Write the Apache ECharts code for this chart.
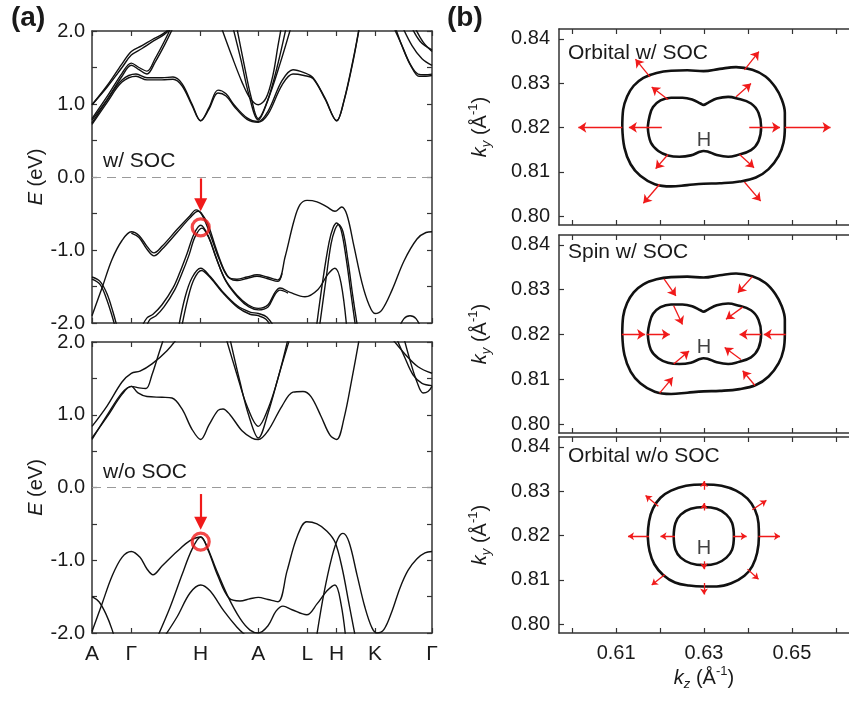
<!DOCTYPE html>
<html><head><meta charset="utf-8">
<script src="https://cdn.jsdelivr.net/npm/echarts@6/dist/echarts.min.js"></script>
<style>html,body{margin:0;padding:0;background:#fff}#c{width:849px;height:702px}</style>
</head><body><div id="c"></div>
<script>
// ---------- DATA ----------
const kPos = [0, 39.3, 108.7, 166.3, 215.3, 244.7, 283, 340];
const kLabels = ['A', 'Γ', 'H', 'A', 'L', 'H', 'K', 'Γ'];
const kzTicks = [0.60, 0.61, 0.62, 0.63, 0.64, 0.65, 0.66];
const kzLabels = [0.61, 0.63, 0.65];
const kyTicks = [0.80, 0.81, 0.82, 0.83, 0.84];

// bands with SOC: [k-path distance, E (eV)]
const socBands = [
  [[0,0.99],[15,1.25],[30,1.55],[39.3,1.72],[50,1.80],[60,1.88],[72,1.97],[82,2.1]],
  [[0,0.99],[15,1.23],[30,1.50],[39.3,1.67],[50,1.76],[60,1.85],[72,1.95],[84,2.1]],
  [[0,0.80],[15,1.10],[30,1.42],[39.3,1.56],[47,1.50],[55,1.45],[63,1.62],[72,1.85],[81,2.1]],
  [[0,0.78],[15,1.06],[30,1.38],[39.3,1.53],[47,1.47],[55,1.41],[63,1.57],[73,1.82],[83,2.1]],
  [[0,0.74],[15,1.05],[30,1.33],[44,1.41],[55,1.36],[70,1.36],[81,1.37],[90,1.28],[100,1.0],[108.7,0.77],[117,0.95],[126,1.19],[134,1.14],[142,0.99],[155,0.81],[166.3,0.76],[176,0.9],[190,1.32],[201,1.47],[212,1.43],[221,1.36],[233,1.08],[244.7,0.77],[252,1.05],[261,1.6],[268,2.1]],
  [[0,0.72],[15,1.02],[30,1.30],[44,1.38],[55,1.33],[70,1.33],[81,1.34],[90,1.25],[100,0.98],[108.7,0.77],[117,0.93],[126,1.15],[134,1.11],[142,0.97],[155,0.79],[166.3,0.75],[176,0.86],[190,1.26],[201,1.41],[212,1.39],[221,1.35],[233,1.07],[244.7,0.77],[252,1.04],[261,1.58],[268,2.1]],
  [[128,2.1],[140,1.65],[150,1.3],[158,1.08],[166.3,0.99],[174,1.08],[181,1.4],[186,1.8],[190,2.1]],
  [[140,2.1],[149,1.6],[157,1.12],[166.3,0.78],[175,1.02],[185,1.5],[195,2.1]],
  [[144,2.1],[152,1.55],[159,1.1],[166.3,0.80],[176,1.06],[188,1.55],[200,2.1]],
  [[300,2.1],[310,1.8],[318,1.55],[326,1.41],[333,1.40],[340,1.41]],
  [[302,2.1],[311,1.76],[319,1.52],[327,1.38],[334,1.38],[340,1.39]],
  [[309,2.1],[320,1.8],[330,1.62],[340,1.53]],
  [[318,2.1],[328,1.86],[340,1.74]],
  [[321,2.1],[331,1.85],[340,1.72]],
  [[0,-1.9],[10,-1.52],[20,-1.13],[30,-0.87],[39.3,-0.75],[47,-0.80],[55,-0.95],[62,-1.04],[70,-0.95],[85,-0.72],[98,-0.53],[104,-0.45],[110,-0.52],[118,-0.78],[127,-1.12],[136,-1.37],[145,-1.40],[155,-1.37],[165,-1.34],[175,-1.37],[186,-1.41],[193,-1.1],[202,-0.6],[208,-0.38],[215,-0.32],[225,-0.34],[235,-0.41],[243,-0.47],[249.7,-0.41],[255,-0.52],[262,-0.95],[270,-1.45],[277,-1.75],[283,-1.87],[290,-1.82],[300,-1.55],[312,-1.15],[325,-0.85],[334,-0.76],[340,-0.75]],
  [[39.3,-0.77],[47,-0.83],[55,-0.99],[62,-1.08],[70,-0.99],[85,-0.76],[98,-0.56],[106,-0.47],[109,-0.49],[116,-0.65],[124,-0.98],[132,-1.27],[138,-1.39],[145,-1.42],[155,-1.39],[165,-1.36],[175,-1.39],[186,-1.43],[190,-1.32]],
  [[224,-2.1],[231,-1.4],[237,-0.9],[241,-0.7],[244.7,-0.63],[249,-0.72],[254,-1.1],[259,-1.6],[264,-2.1]],
  [[227,-2.1],[234,-1.4],[239,-0.92],[243,-0.72],[246.5,-0.65],[251,-0.75],[256,-1.15],[261,-1.65],[266,-2.1]],
  [[50,-2.05],[55,-1.93],[61,-1.88],[70,-1.75],[81,-1.52],[88,-1.3],[95,-1.05],[102,-0.78],[108.7,-0.66],[116,-0.8],[124,-1.1],[133,-1.4],[145,-1.62],[156,-1.75],[166.3,-1.80],[176,-1.75],[183,-1.58],[188,-1.52],[198,-1.58],[213,-1.64],[226,-1.54],[236,-1.33],[243,-1.25],[249,-1.45],[255,-2.1]],
  [[53,-2.1],[58,-1.95],[64,-1.9],[72,-1.78],[83,-1.54],[90,-1.32],[97,-1.07],[103,-0.82],[110,-0.70],[117,-0.84],[125,-1.14],[134,-1.43],[146,-1.65],[157,-1.78],[166.3,-1.82],[176,-1.78],[183,-1.61],[188,-1.55],[196,-1.59]],
  [[86,-2.1],[93,-1.65],[100,-1.38],[108.7,-1.25],[118,-1.36],[130,-1.56],[145,-1.76],[158,-1.85],[166.3,-1.87],[175,-1.92],[184,-2.1]],
  [[89,-2.1],[96,-1.66],[102,-1.4],[109.5,-1.28],[119,-1.39],[131,-1.59],[146,-1.79],[158,-1.88],[166.3,-1.90],[174,-1.95],[181,-2.1]],
  [[0,-1.37],[8,-1.43],[15,-1.6],[21,-1.85],[26,-2.1]],
  [[0,-1.40],[8,-1.47],[14,-1.65],[20,-1.9],[24,-2.1]],
  [[306,-2.1],[312,-1.94],[318,-1.90],[324,-1.94],[330,-2.1]]
];

// bands without SOC
const noSocBands = [
  [[0,0.84],[15,1.12],[30,1.45],[39.3,1.57],[48,1.60],[60,1.70],[75,1.88],[88,2.1]],
  [[0,0.68],[15,0.97],[30,1.28],[39.3,1.39],[47,1.37],[54,1.36],[60,1.55],[67,1.85],[73,2.1]],
  [[0,0.66],[15,0.99],[30,1.30],[39.3,1.39],[46,1.30],[55,1.25],[70,1.24],[80,1.23],[90,1.08],[100,0.80],[108.7,0.66],[117,0.86],[126,1.06],[131,1.08],[138,1.0],[150,0.78],[160,0.68],[166.3,0.66],[176,0.78],[190,1.12],[201,1.31],[211,1.32],[219,1.25],[229,0.98],[238,0.72],[244.7,0.66],[252,0.95],[260,1.5],[268,2.1]],
  [[133,2.1],[145,1.55],[155,1.12],[166.3,0.84],[176,1.08],[186,1.5],[197,2.1]],
  [[137,2.1],[148,1.45],[157,0.98],[166.3,0.68],[176,1.02],[188,1.6],[199,2.1]],
  [[297,2.1],[312,1.85],[326,1.66],[340,1.57]],
  [[303,2.1],[313,1.78],[321,1.55],[330,1.43],[340,1.40]],
  [[311,2.1],[318,1.75],[325,1.45],[331,1.30],[336,1.32],[340,1.39]],
  [[0,-1.98],[10,-1.6],[20,-1.22],[30,-0.96],[39.3,-0.88],[48,-0.96],[55,-1.12],[61,-1.20],[70,-1.08],[85,-0.88],[98,-0.73],[108.7,-0.68],[116,-0.86],[126,-1.22],[137,-1.52],[148,-1.56],[158,-1.53],[166.3,-1.51],[176,-1.54],[186,-1.57],[195,-1.15],[205,-0.68],[214.7,-0.47],[225,-0.5],[235,-0.6],[243,-0.75],[250,-1.1],[257,-1.6],[264,-2.1]],
  [[224,-2.1],[232,-1.45],[240,-0.95],[246,-0.7],[251,-0.63],[257,-0.75],[265,-1.2],[273,-1.65],[280,-1.93],[285,-2.0],[292,-1.95],[300,-1.7],[308,-1.38],[316,-1.14],[325,-0.98],[333,-0.9],[340,-0.88]],
  [[64,-2.1],[78,-1.65],[90,-1.2],[100,-0.85],[108.7,-0.68],[114,-0.78],[124,-1.12],[136,-1.5],[148,-1.8],[158,-1.96],[166.3,-2.0],[176,-1.9],[184,-1.7],[191,-1.63],[200,-1.68],[214.7,-1.75],[225,-1.6],[235,-1.42],[243,-1.34],[249,-1.6],[254,-2.1]],
  [[70,-2.1],[85,-1.78],[98,-1.45],[108.7,-1.34],[118,-1.42],[132,-1.7],[145,-1.92],[155,-2.05],[160,-2.1]],
  [[0,-1.50],[7,-1.57],[14,-1.74],[20,-1.95],[23,-2.1]]
];

// red markers in (a): [k, E]
const socCircle = [108.7, -0.69];
const noSocCircle = [108.7, -0.745];
const socArrow = [108.7, -0.02, 108.7, -0.38];
const noSocArrow = [108.7, -0.09, 108.7, -0.49];

// Fermi contours in (b): [kz, ky]
const outerSoc = [[0.6114,0.8201],[0.6116,0.8240],[0.6125,0.8270],[0.6140,0.8294],[0.6162,0.8312],[0.6192,0.8323],[0.6225,0.8328],[0.6262,0.8329],[0.6299,0.8327],[0.6336,0.8332],[0.6373,0.8336],[0.6410,0.8330],[0.6440,0.8315],[0.6462,0.8291],[0.6477,0.8263],[0.6484,0.8233],[0.6484,0.8201],[0.6481,0.8166],[0.6470,0.8136],[0.6447,0.8106],[0.6418,0.8087],[0.6381,0.8078],[0.6336,0.8074],[0.6299,0.8073],[0.6262,0.8070],[0.6225,0.8067],[0.6188,0.8072],[0.6155,0.8091],[0.6133,0.8117],[0.6119,0.8154]];
const innerSoc = [[0.6172,0.8201],[0.6176,0.8225],[0.6184,0.8246],[0.6201,0.8261],[0.6225,0.8267],[0.6251,0.8267],[0.6273,0.8263],[0.6292,0.8254],[0.6299,0.8251],[0.6308,0.8255],[0.6329,0.8265],[0.6355,0.8269],[0.6373,0.8266],[0.6407,0.8254],[0.6424,0.8233],[0.6430,0.8201],[0.6424,0.8169],[0.6407,0.8149],[0.6373,0.8137],[0.6355,0.8134],[0.6329,0.8138],[0.6308,0.8146],[0.6299,0.8147],[0.6290,0.8145],[0.6270,0.8137],[0.6244,0.8134],[0.6218,0.8137],[0.6196,0.8147],[0.6179,0.8166]];
const outerNoSoc = [[0.6172,0.8198],[0.6175,0.8232],[0.6184,0.8261],[0.6201,0.8285],[0.6225,0.8301],[0.6259,0.8312],[0.6300,0.8315],[0.6340,0.8312],[0.6373,0.8301],[0.6399,0.8283],[0.6416,0.8258],[0.6424,0.8228],[0.6425,0.8198],[0.6421,0.8161],[0.6410,0.8131],[0.6392,0.8109],[0.6362,0.8092],[0.6329,0.8085],[0.6300,0.8085],[0.6266,0.8087],[0.6234,0.8094],[0.6207,0.8111],[0.6187,0.8135],[0.6176,0.8165]];
const innerNoSoc = [[0.6231,0.8198],[0.6235,0.8228],[0.6247,0.8247],[0.6270,0.8260],[0.6300,0.8264],[0.6329,0.8260],[0.6351,0.8247],[0.6364,0.8228],[0.6368,0.8198],[0.6364,0.8168],[0.6351,0.8150],[0.6329,0.8137],[0.6300,0.8133],[0.6270,0.8137],[0.6247,0.8150],[0.6235,0.8168]];

// arrows in (b): [kz0, ky0, kz1, ky1]
const orbSocArrows = [
  [0.6177,0.8314,0.6144,0.8354],[0.6392,0.8330,0.6425,0.8371],
  [0.6114,0.8200,0.6014,0.8200],[0.6484,0.8200,0.6588,0.8200],
  [0.6199,0.8072,0.6162,0.8029],[0.6392,0.8077,0.6429,0.8034],
  [0.6218,0.8263,0.6181,0.8291],[0.6373,0.8269,0.6407,0.8299],
  [0.6204,0.8200,0.6129,0.8200],[0.6403,0.8200,0.6473,0.8200],
  [0.6218,0.8139,0.6190,0.8107],[0.6381,0.8139,0.6414,0.8109]
];
const spinSocArrows = [
  [0.6209,0.8324,0.6236,0.8286],[0.6410,0.8329,0.6377,0.8293],
  [0.6113,0.8200,0.6166,0.8200],[0.6170,0.8200,0.6222,0.8200],
  [0.6486,0.8200,0.6436,0.8200],[0.6430,0.8200,0.6381,0.8200],
  [0.6231,0.8264,0.6251,0.8222],[0.6388,0.8261,0.6350,0.8234],
  [0.6231,0.8134,0.6266,0.8163],[0.6384,0.8144,0.6347,0.8171],
  [0.6199,0.8069,0.6229,0.8104],[0.6416,0.8086,0.6388,0.8119]
];
const orbNoSocArrows = [
  [0.6300,0.8303,0.6300,0.8323],[0.6300,0.8093,0.6300,0.8067],
  [0.6175,0.8198,0.6127,0.8198],[0.6424,0.8198,0.6473,0.8198],
  [0.6196,0.8266,0.6167,0.8290],[0.6410,0.8258,0.6442,0.8279],
  [0.6211,0.8112,0.6181,0.8088],[0.6399,0.8124,0.6424,0.8101],
  [0.6300,0.8256,0.6300,0.8273],[0.6300,0.8142,0.6300,0.8124],
  [0.6234,0.8198,0.6201,0.8198],[0.6366,0.8198,0.6397,0.8198]
];
const hPoint = [0.63, 0.82];

// ---------- CHART ----------
const FONT = "'Liberation Sans', Arial, sans-serif";
const AX = '#333';
const TXT = '#1a1a1a';
const RED = '#f01a1a';

function baseAxis(o) {
  return Object.assign({
    type: 'value',
    axisLine: { show: true, onZero: false, lineStyle: { color: AX, width: 1.5 } },
    axisTick: { show: true, inside: true, length: 5, lineStyle: { color: AX, width: 1.2 } },
    splitLine: { show: false }
  }, o);
}
const labelStyle = (extra) => Object.assign({ color: TXT, fontSize: 20, fontFamily: FONT }, extra);

function kAxis(gi, pos, labels) {
  return baseAxis({
    gridIndex: gi, position: pos, min: 0, max: 340,
    axisTick: { show: true, inside: true, length: 5, customValues: kPos, lineStyle: { color: AX, width: 1.2 } },
    axisLabel: labelStyle({ show: labels, customValues: kPos, margin: 11, fontSize: 21,
      formatter: v => { const i = kPos.findIndex(p => Math.abs(p - v) < 1e-6); return i >= 0 ? kLabels[i] : ''; } })
  });
}
function eAxis(gi, pos, labels) {
  const o = baseAxis({
    gridIndex: gi, position: pos, min: -2, max: 2, interval: 0.5,
    axisLabel: labelStyle({ show: labels, margin: 7, showMinLabel: true, showMaxLabel: true,
      formatter: v => (Math.abs(v - Math.round(v)) < 1e-6 ? v.toFixed(1) : '') })
  });
  if (labels) {
    o.name = '{i|E} (eV)';
    o.nameLocation = 'middle'; o.nameGap = 46; o.nameRotate = 90;
    o.nameTextStyle = { color: TXT, fontSize: 20, fontFamily: FONT, rich: { i: { fontStyle: 'italic', fontSize: 20, fontFamily: FONT, color: TXT } } };
  }
  return o;
}
const kRich = {
  i: { fontStyle: 'italic', fontSize: 20, fontFamily: FONT, color: TXT, lineHeight: 26 },
  sub: { fontStyle: 'italic', fontSize: 13, fontFamily: FONT, color: TXT, verticalAlign: 'bottom', lineHeight: 26 },
  sup: { fontSize: 13, fontFamily: FONT, color: TXT, verticalAlign: 'top', lineHeight: 26 },
  n: { fontSize: 20, fontFamily: FONT, color: TXT, lineHeight: 26 }
};
function kzAxis(gi, pos, labels) {
  const o = baseAxis({
    gridIndex: gi, position: pos, min: 0.597, max: 0.663,
    axisTick: { show: true, inside: true, length: 5, customValues: kzTicks, lineStyle: { color: AX, width: 1.2 } },
    axisLabel: labelStyle({ show: labels, customValues: kzLabels, margin: 10, formatter: v => v.toFixed(2) })
  });
  if (labels) {
    o.name = '{i|k}{sub|z}{n| (Å}{sup|-1}{n|)}';
    o.nameLocation = 'middle'; o.nameGap = 32;
    o.nameTextStyle = { color: TXT, fontSize: 20, fontFamily: FONT, rich: kRich };
  }
  return o;
}
function kyAxis(gi) {
  return baseAxis({
    gridIndex: gi, position: 'left', min: 0.798, max: 0.8422,
    axisTick: { show: true, inside: true, length: 5, customValues: kyTicks, lineStyle: { color: AX, width: 1.2 } },
    axisLabel: labelStyle({ customValues: kyTicks, margin: 9, formatter: v => v.toFixed(2) }),
    name: '{i|k}{sub|y}{n| (Å}{sup|-1}{n|)}', nameLocation: 'middle', nameGap: 66, nameRotate: 90,
    nameTextStyle: { color: TXT, fontSize: 20, fontFamily: FONT, rich: kRich }
  });
}

const series = [];
function addBands(bands, xi, yi) {
  bands.forEach(b => series.push({
    type: 'line', xAxisIndex: xi, yAxisIndex: yi, data: b, smooth: 0.35,
    showSymbol: false, symbol: 'none', silent: true, animation: false, z: 3,
    lineStyle: { color: '#111', width: 1.4 }
  }));
  series.push({
    type: 'line', xAxisIndex: xi, yAxisIndex: yi, data: [], silent: true, animation: false,
    markLine: { silent: true, symbol: 'none', label: { show: false }, animation: false,
      lineStyle: { type: [9, 6], color: '#9a9a9a', width: 1.2 }, data: [{ yAxis: 0 }] }
  });
}
addBands(socBands, 0, 0);
addBands(noSocBands, 2, 2);

function addMarker(circ, arr, xi, yi) {
  series.push({
    type: 'lines', coordinateSystem: 'cartesian2d', xAxisIndex: xi, yAxisIndex: yi, silent: true, animation: false, z: 6,
    symbol: ['none', 'triangle'], symbolSize: [14, 13],
    lineStyle: { color: RED, width: 2.2, opacity: 1, curveness: 0 },
    data: [{ coords: [[arr[0], arr[1]], [arr[2], arr[3]]] }]
  });
  series.push({
    type: 'scatter', xAxisIndex: xi, yAxisIndex: yi, silent: true, animation: false, z: 6,
    data: [circ], symbol: 'circle', symbolSize: 17,
    itemStyle: { color: 'rgba(0,0,0,0)', borderColor: RED, borderWidth: 3.2 }
  });
}
addMarker(socCircle, socArrow, 0, 0);
addMarker(noSocCircle, noSocArrow, 2, 2);

function addContour(pts, xi, yi) {
  series.push({
    type: 'line', xAxisIndex: xi, yAxisIndex: yi, data: pts.concat([pts[0]]), smooth: 0.4,
    showSymbol: false, symbol: 'none', silent: true, animation: false, z: 3,
    lineStyle: { color: '#111', width: 2.6 }
  });
}
function addArrows(arrs, xi, yi, size) {
  series.push({
    type: 'lines', coordinateSystem: 'cartesian2d', xAxisIndex: xi, yAxisIndex: yi, silent: true, animation: false, z: 5,
    symbol: ['none', 'arrow'], symbolSize: size,
    lineStyle: { color: RED, width: 1.3, opacity: 1, curveness: 0 },
    data: arrs.map(a => ({ coords: [[a[0], a[1]], [a[2], a[3]]] }))
  });
}
function addH(xi, yi) {
  series.push({
    type: 'scatter', xAxisIndex: xi, yAxisIndex: yi, silent: true, animation: false, z: 6,
    data: [hPoint], symbol: 'emptyCircle', symbolSize: 4,
    itemStyle: { color: '#fff', borderColor: '#333', borderWidth: 1 },
    label: { show: true, position: 'bottom', distance: 0, formatter: 'H', color: '#111', fontSize: 20, fontFamily: FONT }
  });
}
[[outerSoc, innerSoc, orbSocArrows, 4, 4, 8], [outerSoc, innerSoc, spinSocArrows, 6, 5, 8], [outerNoSoc, innerNoSoc, orbNoSocArrows, 8, 6, 6]]
  .forEach(([o, i, a, xi, yi, s]) => { addContour(o, xi, yi); addContour(i, xi, yi); addArrows(a, xi, yi, s); addH(xi, yi); });

const txt = (t, left, top, size, bold) => ({
  type: 'text', left, top, silent: true,
  style: { text: t, fill: TXT, font: (bold ? 'bold ' : '') + size + 'px ' + FONT }
});

const option = {
  backgroundColor: '#fff',
  animation: false,
  grid: [
    { left: 92, top: 31, width: 340, height: 292 },
    { left: 92, top: 342, width: 340, height: 291 },
    { left: 559, top: 29, width: 297, height: 196 },
    { left: 559, top: 235, width: 297, height: 198 },
    { left: 559, top: 437, width: 297, height: 196 }
  ],
  xAxis: [
    kAxis(0, 'bottom', false), kAxis(0, 'top', false),
    kAxis(1, 'bottom', true), kAxis(1, 'top', false),
    kzAxis(2, 'bottom', false), kzAxis(2, 'top', false),
    kzAxis(3, 'bottom', false), kzAxis(3, 'top', false),
    kzAxis(4, 'bottom', true), kzAxis(4, 'top', false)
  ],
  yAxis: [
    eAxis(0, 'left', true), eAxis(0, 'right', false),
    eAxis(1, 'left', true), eAxis(1, 'right', false),
    kyAxis(2), kyAxis(3), kyAxis(4)
  ],
  series,
  graphic: [
    txt('(a)', 11, 4, 28, true),
    txt('(b)', 447, 4, 28, true),
    txt('w/ SOC', 103, 151, 21),
    txt('w/o SOC', 103, 462, 21),
    txt('Orbital w/ SOC', 568, 43, 21),
    txt('Spin w/ SOC', 568, 242, 21),
    txt('Orbital w/o SOC', 568, 446, 21)
  ]
};
const chart = echarts.init(document.getElementById('c'), null, { renderer: 'canvas' });
chart.setOption(option);
</script></body></html>
